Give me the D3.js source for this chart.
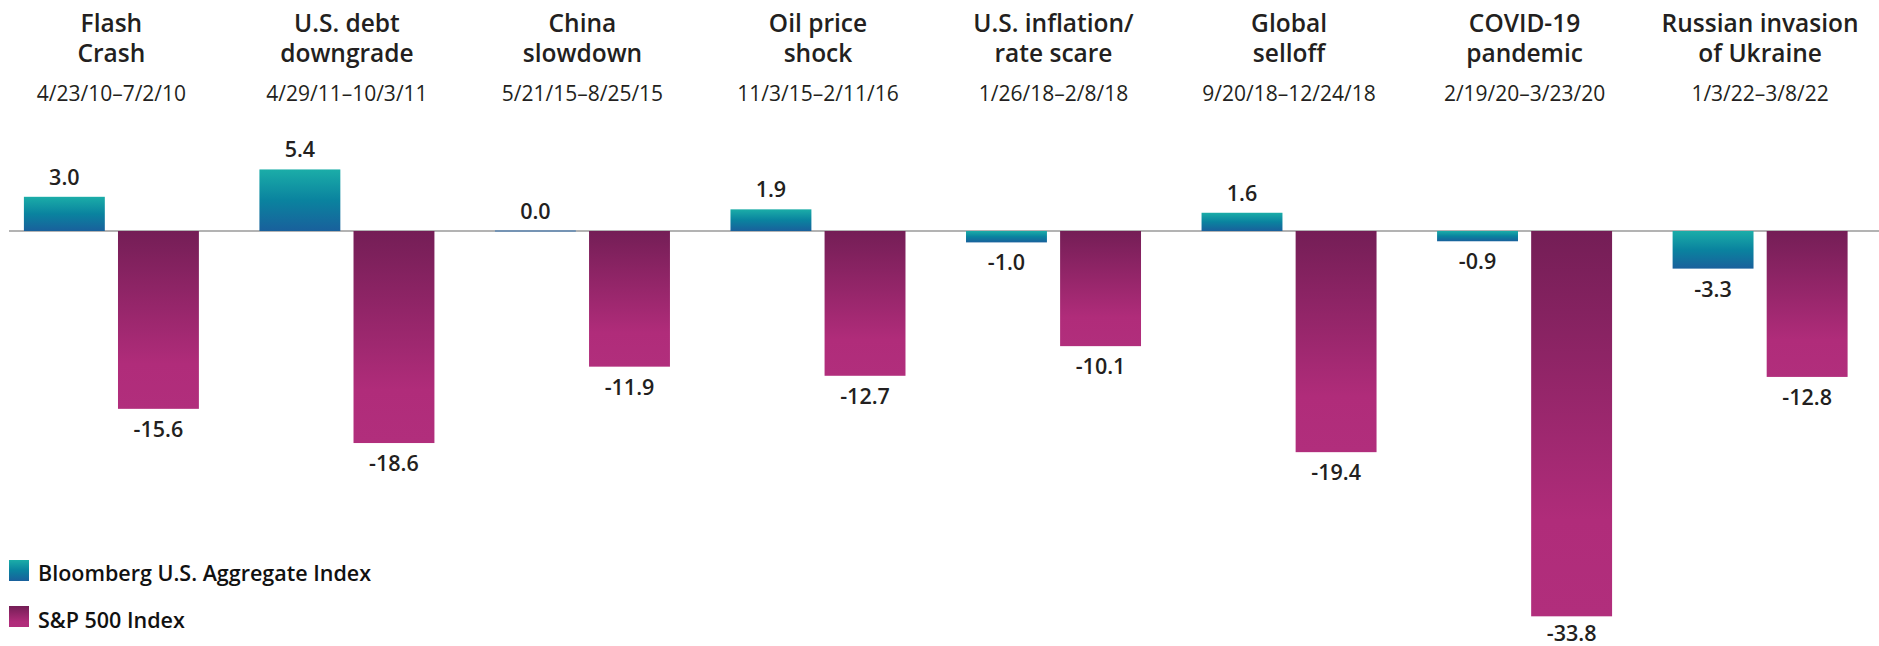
<!DOCTYPE html>
<html>
<head>
<meta charset="utf-8">
<script src="https://cdn.jsdelivr.net/npm/d3@7"></script>
<style>
  html, body { margin: 0; padding: 0; background: #fff; }
  svg { display: block; font-family: "Open Sans", "Noto Sans", sans-serif; }
</style>
</head>
<body>
<svg id="chart"></svg>
<script>
// --- Data ---
const events = ["flash", "debt", "china", "oil", "inflation", "global", "covid", "russia"];
const titleLines = [
  ["Flash", "Crash"],
  ["U.S. debt", "downgrade"],
  ["China", "slowdown"],
  ["Oil price", "shock"],
  ["U.S. inflation/", "rate scare"],
  ["Global", "selloff"],
  ["COVID-19", "pandemic"],
  ["Russian invasion", "of Ukraine"]
];
const dateRanges = [
  "4/23/10–7/2/10", "4/29/11–10/3/11", "5/21/15–8/25/15", "11/3/15–2/11/16",
  "1/26/18–2/8/18", "9/20/18–12/24/18", "2/19/20–3/23/20", "1/3/22–3/8/22"
];
const bondReturns = [3.0, 5.4, 0.0, 1.9, -1.0, 1.6, -0.9, -3.3];
const stockReturns = [-15.6, -18.6, -11.9, -12.7, -10.1, -19.4, -33.8, -12.8];
const seriesNames = ["Bloomberg U.S. Aggregate Index", "S&P 500 Index"];
const seriesKeys = ["bond", "stock"];

// --- Dimensions ---
const width = 1879;
const height = 646;

const svg = d3.select("#chart").attr("width", width).attr("height", height);

// gradients
const defs = svg.append("defs");
const gBond = defs.append("linearGradient").attr("id", "grad-bond")
  .attr("x1", 0).attr("y1", 0).attr("x2", 0).attr("y2", 1);
gBond.append("stop").attr("offset", "0%").attr("stop-color", "#1bada8");
gBond.append("stop").attr("offset", "50%").attr("stop-color", "#0a839f");
gBond.append("stop").attr("offset", "100%").attr("stop-color", "#19609c");

const gStock = defs.append("linearGradient").attr("id", "grad-stock")
  .attr("x1", 0).attr("y1", 0).attr("x2", 0).attr("y2", 1);
gStock.append("stop").attr("offset", "0%").attr("stop-color", "#741e56");
gStock.append("stop").attr("offset", "75%").attr("stop-color", "#b02c7a");
gStock.append("stop").attr("offset", "100%").attr("stop-color", "#b12e7c");

const fills = { bond: "url(#grad-bond)", stock: "url(#grad-stock)" };

// --- Scales ---
const x0 = d3.scaleBand()
  .domain(events)
  .range([-6.25, 1877.75])
  .paddingInner(0.257)
  .paddingOuter(0.128);

const x1 = d3.scaleBand()
  .domain(seriesKeys)
  .range([0, x0.bandwidth()])
  .paddingInner(0.14);

const y = d3.scaleLinear()
  .domain([6, -34])
  .range([231 - 6 * 11.4, 231 + 34 * 11.4]);

const rows = events.map((e, i) => ({
  key: e,
  title: titleLines[i],
  date: dateRanges[i],
  values: [
    { key: "bond", value: bondReturns[i] },
    { key: "stock", value: stockReturns[i] }
  ]
}));

// --- Headers ---
const header = svg.append("g").attr("class", "headers");
rows.forEach((d) => {
  const cx = x0(d.key) + x0.bandwidth() / 2;
  d.title.forEach((line, j) => {
    header.append("text")
      .attr("x", cx)
      .attr("y", 32 + j * 30)
      .attr("text-anchor", "middle")
      .attr("font-size", 24.5)
      .attr("font-weight", 600)
      .attr("fill", "#231f20")
      .text(line);
  });
  header.append("text")
    .attr("x", cx)
    .attr("y", 101)
    .attr("text-anchor", "middle")
    .attr("font-size", 21)
    .attr("font-weight", 400)
    .attr("fill", "#231f20")
    .text(d.date);
});

// baseline (bars are drawn over it)
svg.append("line")
  .attr("x1", 9).attr("x2", width)
  .attr("y1", y(0)).attr("y2", y(0))
  .attr("stroke", "#b3b3b3")
  .attr("stroke-width", 2);

// --- Bars ---
const groups = svg.selectAll(".event-group")
  .data(rows)
  .enter()
  .append("g")
  .attr("class", "event-group")
  .attr("transform", (d) => `translate(${x0(d.key)},0)`);

groups.selectAll("rect")
  .data((d) => d.values)
  .enter()
  .append("rect")
  .attr("x", (d) => x1(d.key))
  .attr("width", x1.bandwidth())
  .attr("y", (d) => (d.value === 0 ? y(0) - 1 : Math.min(y(d.value), y(0))))
  .attr("height", (d) => (d.value === 0 ? 2 : Math.abs(y(d.value) - y(0))))
  .attr("fill", (d) => (d.value === 0 ? "#7594b4" : fills[d.key]));

// value labels
groups.selectAll(".val")
  .data((d) => d.values)
  .enter()
  .append("text")
  .attr("class", "val")
  .attr("x", (d) => x1(d.key) + x1.bandwidth() / 2)
  .attr("y", (d) => (d.value >= 0 ? y(d.value) - 12 : Math.min(y(d.value) + 28, height - 5)))
  .attr("text-anchor", "middle")
  .attr("font-size", 21.5)
  .attr("font-weight", 600)
  .attr("fill", "#231f20")
  .text((d) => d.value.toFixed(1));

// --- Legend ---
const legend = svg.append("g").attr("class", "legend");
seriesKeys.forEach((k, i) => {
  legend.append("rect")
    .attr("x", 9).attr("y", 560 + i * 46)
    .attr("width", 20).attr("height", 21)
    .attr("fill", fills[k]);
  legend.append("text")
    .attr("x", 38).attr("y", 581 + i * 47)
    .attr("font-size", 21.5)
    .attr("font-weight", 600)
    .attr("fill", "#111")
    .text(seriesNames[i]);
});
</script>
</body>
</html>
